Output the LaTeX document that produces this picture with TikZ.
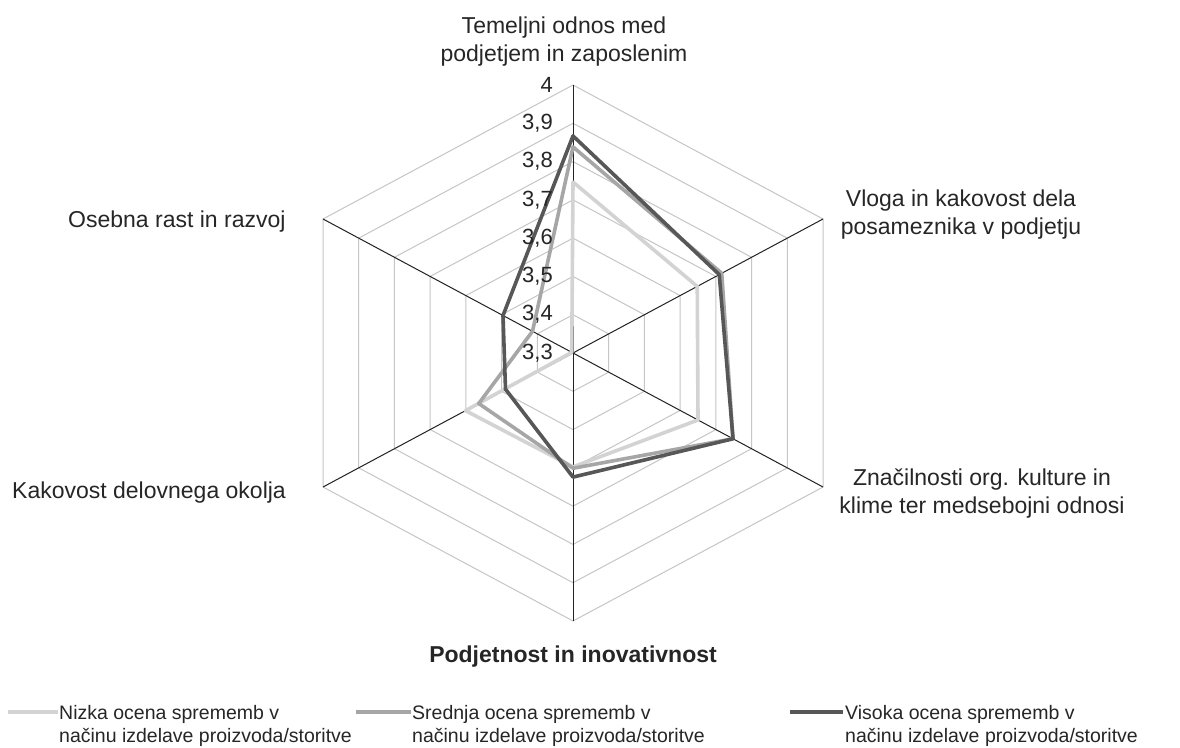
\documentclass[tikz,border=0pt]{standalone}
\usepackage{fontspec}
\setmainfont{Liberation Sans}
\usetikzlibrary{calc}
\definecolor{lightS}{HTML}{D3D3D3}
\definecolor{midS}{HTML}{A6A6A6}
\definecolor{darkS}{HTML}{575757}
\definecolor{gridc}{HTML}{C6C6C6}
\definecolor{spokec}{HTML}{222222}
\tikzset{
  gridline/.style={draw=gridc, line width=1pt},
  spoke/.style={draw=spokec, line width=1pt},
  series/.style={line width=3.6pt, line join=round},
  axlab/.style={inner sep=0pt, align=center, font=\fontsize{23}{28}\selectfont, text=black!85},
  ticklab/.style={inner sep=0pt, anchor=east, font=\fontsize{22}{26}\selectfont, text=black!85},
  leglab/.style={inner sep=0pt, align=left, anchor=base west, font=\fontsize{19.5}{23}\selectfont, text=black!85},
}
\begin{document}
\begin{tikzpicture}[x=1pt,y=-1pt]
\useasboundingbox[fill=white] (0,0) rectangle (1180,747);
\coordinate (C) at (573,353);
\coordinate (T1) at (573,85);
\coordinate (T2) at (823,219);
\coordinate (T3) at (823,487);
\coordinate (T4) at (573,621);
\coordinate (T5) at (323,487);
\coordinate (T6) at (323,219);
% grid
\foreach \k in {1,...,7}{
  \draw[gridline] ($(C)!\k/7!(T1)$) -- ($(C)!\k/7!(T2)$) -- ($(C)!\k/7!(T3)$) -- ($(C)!\k/7!(T4)$) -- ($(C)!\k/7!(T5)$) -- ($(C)!\k/7!(T6)$) -- cycle;
}
% spokes
\foreach \i in {1,...,6}{
  \draw[spoke] (C) -- (T\i);
}
% series
\draw[series, lightS] ($(C)!0.638!(T1)$) -- ($(C)!0.497!(T2)$) -- ($(C)!0.5!(T3)$) -- ($(C)!0.425!(T4)$) -- ($(C)!0.43!(T5)$) -- ($(C)!0.005!(T6)$) -- cycle;
\draw[series, midS] ($(C)!0.769!(T1)$) -- ($(C)!0.595!(T2)$) -- ($(C)!0.64!(T3)$) -- ($(C)!0.43!(T4)$) -- ($(C)!0.377!(T5)$) -- ($(C)!0.162!(T6)$) -- cycle;
\draw[series, darkS] ($(C)!0.81!(T1)$) -- ($(C)!0.585!(T2)$) -- ($(C)!0.64!(T3)$) -- ($(C)!0.463!(T4)$) -- ($(C)!0.27!(T5)$) -- ($(C)!0.28!(T6)$) -- cycle;
% tick labels
\foreach \k/\lab in {0/{3,3},1/{3,4},2/{3,5},3/{3,6},4/{3,7},5/{3,8},6/{3,9},7/{4}}{
  \node[ticklab] (tick\k) at ($(C)!\k/7!(T1)+(-20,0)$) {\lab};
}
% axis labels (base = baseline of last line)
\node[axlab, anchor=base] (lab1) at (564,61) {Temeljni odnos med\\podjetjem in zaposlenim};
\node[axlab, anchor=base] (lab2) at (961,234) {Vloga in kakovost dela\\posameznika v podjetju};
\node[axlab, anchor=base] (lab3) at (982,513) {Značilnosti org. kulture in\\klime ter medsebojni odnosi};
\node[axlab, anchor=base, font=\fontsize{23}{28}\selectfont\bfseries] (lab4) at (573,662) {Podjetnost in inovativnost};
\node[axlab, anchor=base west] (lab5) at (12,498) {Kakovost delovnega okolja};
\node[axlab, anchor=base west] (lab6) at (68,227) {Osebna rast in razvoj};
% legend
\coordinate (l1a) at (8,712); \coordinate (l1b) at (58,712);
\coordinate (l2a) at (356,712); \coordinate (l2b) at (411,712);
\coordinate (l3a) at (790,712); \coordinate (l3b) at (843,712);
\draw[series, lightS] (l1a) -- (l1b);
\draw[series, midS] (l2a) -- (l2b);
\draw[series, darkS] (l3a) -- (l3b);
\node[leglab] (leg1) at (59,742) {Nizka ocena sprememb v\\načinu izdelave proizvoda/storitve};
\node[leglab] (leg2) at (412,742) {Srednja ocena sprememb v\\načinu izdelave proizvoda/storitve};
\node[leglab] (leg3) at (845,742) {Visoka ocena sprememb v\\načinu izdelave proizvoda/storitve};
\end{tikzpicture}
\end{document}
